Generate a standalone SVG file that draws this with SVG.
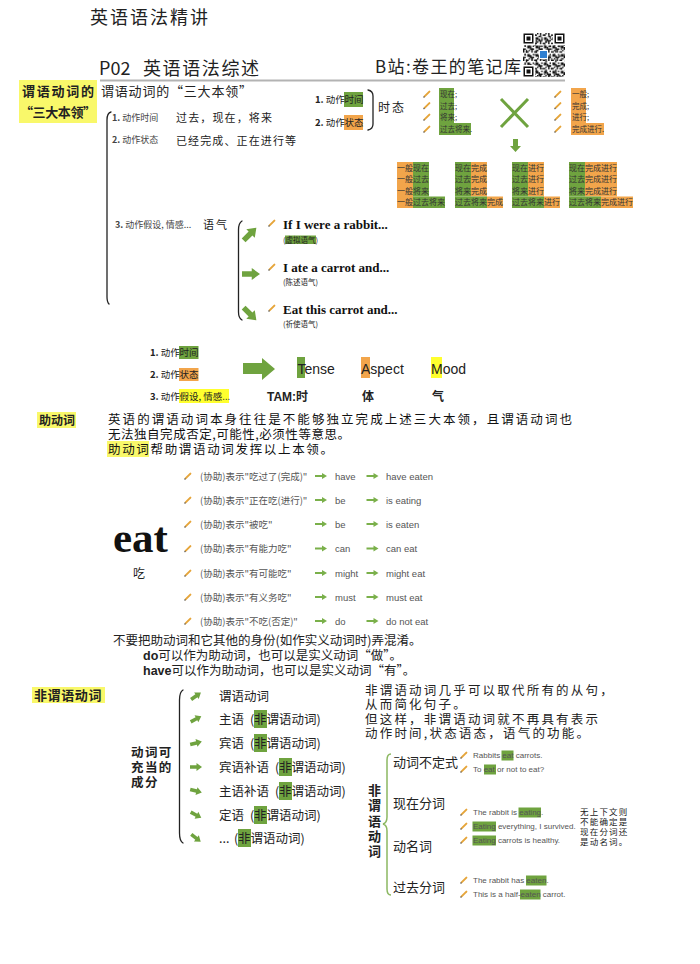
<svg xmlns="http://www.w3.org/2000/svg" width="700" height="964" viewBox="0 0 700 964">
<style>
text{font-family:"Noto Sans CJK SC","Noto Sans",sans-serif;fill:#222}
.s9{font-size:9px;fill:#444}
.lb{font-size:9.5px;fill:#555}
.en{font-family:"Liberation Sans",Arial,sans-serif}
.sr{font-family:"Liberation Serif","Times New Roman",serif;font-weight:bold;fill:#111}
.b{font-weight:bold}
.g{fill:#6fa33f}
.o{fill:#f2a54b}
.y{fill:#f9f86a}
.yb{fill:#ffff2e}
.br{fill:none;stroke:#222;stroke-width:1.3;stroke-linecap:round}
.ex{font-family:"Liberation Sans",Arial,sans-serif;font-size:8px;fill:#555}
.t8{font-size:8px;fill:#333}
.t75{font-size:7.5px;fill:#333}
.para{font-size:12.5px;fill:#111}
</style>
<defs>
<path id="arr" d="M-6,-1.8 L0.5,-1.8 L0.5,-4 L6,0 L0.5,4 L0.5,1.8 L-6,1.8 Z" fill="#6fa33f"/>
<path id="arrs" d="M-6,-1.1 L1,-1.1 L1,-3 L6,0 L1,3 L1,1.1 L-6,1.1 Z" fill="#7ab04a"/>
<g id="pen"><path d="M-2.4,2.4 L2.4,-2.4" stroke="#e6a53a" stroke-width="2" stroke-linecap="round"/><path d="M-3.5,3.5 L-2.5,2.5" stroke="#666" stroke-width="1.3"/></g>
<pattern id="qa" x="523" y="33" width="8.4" height="8.4" patternUnits="userSpaceOnUse">
<rect x="0" y="0" width="1.4" height="2.8" fill="#111"/><rect x="2.8" y="1.4" width="2.8" height="1.4" fill="#111"/><rect x="5.6" y="0" width="1.4" height="1.4" fill="#111"/><rect x="1.4" y="4.2" width="1.4" height="1.4" fill="#111"/><rect x="4.2" y="4.2" width="2.8" height="2.8" fill="#111"/><rect x="0" y="7" width="2.8" height="1.4" fill="#111"/><rect x="7" y="5.6" width="1.4" height="2.8" fill="#111"/>
</pattern>
<pattern id="qb" x="523" y="33" width="9.8" height="9.8" patternUnits="userSpaceOnUse">
<rect x="1.4" y="1.4" width="1.4" height="1.4" fill="#111"/><rect x="5.6" y="2.8" width="2.8" height="1.4" fill="#111"/><rect x="2.8" y="7" width="1.4" height="2.8" fill="#111"/><rect x="8.4" y="5.6" width="1.4" height="1.4" fill="#111"/>
</pattern>
</defs>
<rect width="700" height="964" fill="#fff"/>

<g id="header">
<text x="90" y="24" font-size="18" textLength="118" lengthAdjust="spacing">英语语法精讲</text>
<text x="99" y="75" font-size="18">P02</text>
<text x="143" y="75" font-size="18" textLength="116" lengthAdjust="spacing">英语语法综述</text>
<text x="375" y="73" font-size="17" textLength="146" lengthAdjust="spacing">B站:卷王的笔记库</text>
<g id="qr">
<rect x="523" y="33" width="42" height="44" fill="#fff"/>
<rect x="523" y="33" width="42" height="44" fill="url(#qa)"/>
<rect x="523" y="33" width="42" height="44" fill="url(#qb)"/>
<rect x="523" y="33" width="12" height="12" fill="#fff"/><rect x="523.5" y="33.5" width="10" height="10" fill="#111"/><rect x="525" y="35" width="7" height="7" fill="#fff"/><rect x="526.5" y="36.5" width="4" height="4" fill="#111"/>
<rect x="553" y="33" width="12" height="12" fill="#fff"/><rect x="554.5" y="33.5" width="10" height="10" fill="#111"/><rect x="556" y="35" width="7" height="7" fill="#fff"/><rect x="557.5" y="36.5" width="4" height="4" fill="#111"/>
<rect x="523" y="65" width="12" height="12" fill="#fff"/><rect x="523.5" y="66.5" width="10" height="10" fill="#111"/><rect x="525" y="68" width="7" height="7" fill="#fff"/><rect x="526.5" y="69.5" width="4" height="4" fill="#111"/>
<rect x="539" y="50" width="9" height="9" fill="#fff"/><rect x="540" y="51" width="7" height="7" fill="#2f7fd0"/>
</g>
<line x1="100" y1="80.5" x2="565" y2="80.5" stroke="#b3b3b3" stroke-width="2"/>
</g>

<g id="connectors">
<path class="br" d="M111,112 Q107,113 107,120 L107,297 Q107,302 109,304"/>
<path class="br" d="M368,90 Q373,91 373,96 L373,124 Q373,129 368,130"/>
<path class="br" d="M242,221 Q238.5,223 238.5,230 L238.5,312 Q238.5,318 242,320"/>
<path class="br" d="M183,690 Q179.5,692 179.5,700 L179.5,833 Q179.5,841 183,843"/>
<path d="M391,754 Q387,754 387,760 L387,817 Q387,823 383,824 Q387,825 387,831 L387,889 Q387,895 391,895" fill="none" stroke="#8cb862" stroke-width="1.5"/>
<path d="M501,99 L528,127 M528,99 L501,127" stroke="#6fa33f" stroke-width="3"/>
<path d="M513,139 H518 V146 H521 L515.5,152 L510,146 H513 Z" fill="#6fa33f"/>
<use href="#arr" transform="translate(250,234) rotate(-45) scale(1.5)"/>
<use href="#arr" transform="translate(251,274) scale(1.5)"/>
<use href="#arr" transform="translate(250,314) rotate(45) scale(1.5)"/>
<path d="M243,363 H262 V358 L275,369 L262,380 V374 H243 Z" fill="#6fa33f"/>
<use href="#arrs" x="321" y="476"/><use href="#arrs" x="372.5" y="476"/>
<use href="#arrs" x="321" y="500"/><use href="#arrs" x="372.5" y="500"/>
<use href="#arrs" x="321" y="524"/><use href="#arrs" x="372.5" y="524"/>
<use href="#arrs" x="321" y="548.5"/><use href="#arrs" x="372.5" y="548.5"/>
<use href="#arrs" x="321" y="573"/><use href="#arrs" x="372.5" y="573"/>
<use href="#arrs" x="321" y="597"/><use href="#arrs" x="372.5" y="597"/>
<use href="#arrs" x="321" y="621"/><use href="#arrs" x="372.5" y="621"/>
<use href="#arr" transform="translate(196,696) rotate(-35)"/>
<use href="#arr" transform="translate(196,719) rotate(-28)"/>
<use href="#arr" transform="translate(196,743) rotate(-14)"/>
<use href="#arr" transform="translate(196,767)"/>
<use href="#arr" transform="translate(196,791) rotate(14)"/>
<use href="#arr" transform="translate(196,815) rotate(28)"/>
<use href="#arr" transform="translate(196,838) rotate(38)"/>
</g>

<g id="label-three">
<rect x="19" y="80" width="78" height="43" class="y"/>
<text x="22" y="96" class="b" font-size="13" textLength="72" lengthAdjust="spacing">谓语动词的</text>
<text x="20" y="117" class="b" font-size="13" textLength="76" lengthAdjust="spacing">“三大本领”</text>
</g>

<g id="three-abilities">
<text x="101" y="96" font-size="13" textLength="151" lengthAdjust="spacing">谓语动词的“三大本领”</text>
<text x="112" y="121" class="s9"><tspan class="b">1.</tspan> 动作时间</text>
<text x="176" y="122" font-size="11" textLength="96" lengthAdjust="spacing">过去，现在，将来</text>
<text x="112" y="143" class="s9"><tspan class="b">2.</tspan> 动作状态</text>
<text x="176" y="145" font-size="11" textLength="120" lengthAdjust="spacing">已经完成、正在进行等</text>
</g>

<g id="tense-aspect">
<rect x="344" y="92" width="19" height="15" class="g"/>
<rect x="344" y="115" width="19" height="15" class="o"/>
<text x="315" y="103" font-size="9.5" fill="#444"><tspan class="b" fill="#222">1.</tspan> 动作</text>
<text x="344.5" y="103" font-size="9.5" fill="#333">时间</text>
<text x="315" y="126" font-size="9.5" fill="#444"><tspan class="b" fill="#222">2.</tspan> 动作</text>
<text x="344.5" y="126" font-size="9.5" fill="#333">状态</text>
<text x="378" y="112" font-size="12" letter-spacing="2">时态</text>
</g>

<g id="tense-list">
<path d="M439,88 H454 V123 H471 V135 H439 Z" class="g"/>
<use href="#pen" x="427" y="94"/><use href="#pen" x="427" y="105.5"/><use href="#pen" x="427" y="117"/><use href="#pen" x="427" y="129"/>
<text x="440" y="97" class="t75">现在;</text>
<text x="440" y="108.5" class="t75">过去;</text>
<text x="440" y="120" class="t75">将来;</text>
<text x="440" y="132" class="t75">过去将来.</text>
</g>

<g id="aspect-list">
<path d="M571,88 H586 V123 H604 V135 H571 Z" class="o"/>
<use href="#pen" x="558" y="94"/><use href="#pen" x="558" y="105.5"/><use href="#pen" x="558" y="117"/><use href="#pen" x="558" y="129"/>
<text x="572" y="97" class="t75">一般;</text>
<text x="572" y="108.5" class="t75">完成;</text>
<text x="572" y="120" class="t75">进行;</text>
<text x="572" y="132" class="t75">完成进行.</text>
</g>

<g id="tense-table">
<rect x="397" y="162" width="16" height="46" class="o"/>
<rect x="413" y="162" width="16" height="34.5" class="g"/>
<rect x="413" y="196.5" width="32" height="11.5" class="g"/>
<text x="397" y="170.8" class="t8">一般现在</text><text x="397" y="182.3" class="t8">一般过去</text><text x="397" y="193.8" class="t8">一般将来</text><text x="397" y="205.3" class="t8">一般过去将来</text>
<rect x="455" y="162" width="16" height="34.5" class="g"/>
<rect x="471" y="162" width="16" height="34.5" class="o"/>
<rect x="455" y="196.5" width="32" height="11.5" class="g"/>
<rect x="487" y="196.5" width="16" height="11.5" class="o"/>
<text x="455" y="170.8" class="t8">现在完成</text><text x="455" y="182.3" class="t8">过去完成</text><text x="455" y="193.8" class="t8">将来完成</text><text x="455" y="205.3" class="t8">过去将来完成</text>
<rect x="512" y="162" width="16" height="34.5" class="g"/>
<rect x="528" y="162" width="16" height="34.5" class="o"/>
<rect x="512" y="196.5" width="32" height="11.5" class="g"/>
<rect x="544" y="196.5" width="16" height="11.5" class="o"/>
<text x="512" y="170.8" class="t8">现在进行</text><text x="512" y="182.3" class="t8">过去进行</text><text x="512" y="193.8" class="t8">将来进行</text><text x="512" y="205.3" class="t8">过去将来进行</text>
<rect x="569" y="162" width="16" height="34.5" class="g"/>
<rect x="585" y="162" width="32" height="34.5" class="o"/>
<rect x="569" y="196.5" width="32" height="11.5" class="g"/>
<rect x="601" y="196.5" width="32" height="11.5" class="o"/>
<text x="569" y="170.8" class="t8">现在完成进行</text><text x="569" y="182.3" class="t8">过去完成进行</text><text x="569" y="193.8" class="t8">将来完成进行</text><text x="569" y="205.3" class="t8">过去将来完成进行</text>
</g>

<g id="mood">
<text x="115" y="228" class="s9"><tspan class="b">3.</tspan> 动作假设, 情感...</text>
<text x="203" y="229" font-size="11" letter-spacing="2">语气</text>
<use href="#pen" x="272" y="223"/><use href="#pen" x="272" y="267"/><use href="#pen" x="272" y="308"/>
<text x="283" y="229" class="sr" font-size="13">If I were a rabbit...</text>
<rect x="285" y="235.5" width="31" height="8.5" class="g"/>
<text x="283" y="242.5" font-size="7.5" fill="#444">(虚拟语气)</text>
<text x="283" y="272" class="sr" font-size="13">I ate a carrot and...</text>
<text x="283" y="285" font-size="7.5" fill="#555">(陈述语气)</text>
<text x="283" y="314" class="sr" font-size="13">Eat this carrot and...</text>
<text x="283" y="327" font-size="7.5" fill="#555">(祈使语气)</text>
</g>

<g id="tam">
<rect x="179" y="346" width="19.5" height="13" class="g"/>
<rect x="179" y="368" width="19.5" height="13" class="o"/>
<rect x="179" y="389" width="50" height="14" class="yb"/>
<text x="150" y="356" font-size="9.5" fill="#444"><tspan class="b" fill="#222">1.</tspan> 动作</text><text x="179.5" y="356" font-size="9.5" fill="#333">时间</text>
<text x="150" y="378" font-size="9.5" fill="#444"><tspan class="b" fill="#222">2.</tspan> 动作</text><text x="179.5" y="378" font-size="9.5" fill="#333">状态</text>
<text x="150" y="400" font-size="9.5" fill="#444"><tspan class="b" fill="#222">3.</tspan> 动作</text><text x="179.5" y="400" font-size="9.5" fill="#333">假设, 情感...</text>
<rect x="297" y="357" width="8" height="21" class="g"/>
<rect x="361" y="357" width="9" height="21" class="o"/>
<rect x="431" y="357" width="11" height="21" class="yb"/>
<text x="297.5" y="374" class="en" font-size="14" fill="#333">Tense</text>
<text x="361" y="374" class="en" font-size="14" fill="#333">Aspect</text>
<text x="431" y="374" class="en" font-size="14" fill="#333">Mood</text>
<text x="267" y="401" class="b" font-size="12"><tspan class="en">TAM:</tspan>时</text>
<text x="362" y="401" class="b" font-size="12">体</text>
<text x="432" y="401" class="b" font-size="12">气</text>
</g>

<g id="aux-label">
<rect x="37" y="412" width="39" height="16" class="y"/>
<text x="39" y="425" class="b" font-size="12">助动词</text>
</g>

<g id="aux-text">
<text x="108" y="424" class="para" textLength="464" lengthAdjust="spacing">英语的谓语动词本身往往是不能够独立完成上述三大本领，且谓语动词也</text>
<text x="108" y="439" class="para" textLength="242" lengthAdjust="spacing">无法独自完成否定,可能性,必须性等意思。</text>
<rect x="107" y="441" width="42" height="16" class="y"/>
<text x="108" y="454" class="para" textLength="225" lengthAdjust="spacing">助动词帮助谓语动词发挥以上本领。</text>
</g>

<g id="eat">
<text x="113" y="552" class="sr" font-size="43">eat</text>
<text x="133" y="578" font-size="12">吃</text>
</g>

<g id="aux-rows">
<use href="#pen" x="188" y="476"/><text x="200" y="479.5" class="lb">(协助)表示"吃过了(完成)"</text><text x="335" y="479.5" class="lb en">have</text><text x="386" y="479.5" class="lb en">have eaten</text>
<use href="#pen" x="188" y="500"/><text x="200" y="503.5" class="lb">(协助)表示"正在吃(进行)"</text><text x="335" y="503.5" class="lb en">be</text><text x="386" y="503.5" class="lb en">is eating</text>
<use href="#pen" x="188" y="524"/><text x="200" y="527.5" class="lb">(协助)表示"被吃"</text><text x="335" y="527.5" class="lb en">be</text><text x="386" y="527.5" class="lb en">is eaten</text>
<use href="#pen" x="188" y="548.5"/><text x="200" y="552" class="lb">(协助)表示"有能力吃"</text><text x="335" y="552" class="lb en">can</text><text x="386" y="552" class="lb en">can eat</text>
<use href="#pen" x="188" y="573"/><text x="200" y="576.5" class="lb">(协助)表示"有可能吃"</text><text x="335" y="576.5" class="lb en">might</text><text x="386" y="576.5" class="lb en">might eat</text>
<use href="#pen" x="188" y="597"/><text x="200" y="600.5" class="lb">(协助)表示"有义务吃"</text><text x="335" y="600.5" class="lb en">must</text><text x="386" y="600.5" class="lb en">must eat</text>
<use href="#pen" x="188" y="621"/><text x="200" y="624.5" class="lb">(协助)表示"不吃(否定)"</text><text x="335" y="624.5" class="lb en">do</text><text x="386" y="624.5" class="lb en">do not eat</text>
</g>

<g id="aux-note">
<text x="113" y="645" font-size="12.5" fill="#111">不要把助动词和它其他的身份(如作实义动词时)弄混淆。</text>
<text x="143" y="660" font-size="12.5" fill="#111"><tspan class="en b">do</tspan>可以作为助动词，也可以是实义动词“做”。</text>
<text x="143" y="675" font-size="12.5" fill="#111"><tspan class="en b">have</tspan>可以作为助动词，也可以是实义动词“有”。</text>
</g>

<g id="nonfinite-label">
<rect x="32" y="687" width="73" height="16" class="y"/>
<text x="34" y="700" class="b" font-size="13" letter-spacing="0.6">非谓语动词</text>
</g>

<g id="components">
<text x="131" y="757" class="b" font-size="12.5" letter-spacing="1.4">动词可</text>
<text x="131" y="772" class="b" font-size="12.5" letter-spacing="1.4">充当的</text>
<text x="131" y="787" class="b" font-size="12.5" letter-spacing="1.4">成分</text>
</g>

<g id="component-list">
<rect x="254" y="710" width="13" height="18" class="g"/>
<rect x="254" y="734" width="13" height="18" class="g"/>
<rect x="279" y="758" width="13" height="18" class="g"/>
<rect x="279" y="782" width="13" height="18" class="g"/>
<rect x="254" y="806" width="13" height="18" class="g"/>
<rect x="238" y="829" width="13" height="18" class="g"/>
<text x="219" y="700.5" font-size="12.5" fill="#333">谓语动词</text>
<text x="219" y="723.5" font-size="12.5" fill="#333">主语</text><text x="250" y="723.5" font-size="12.5" fill="#333">(</text><text x="254" y="723.5" font-size="12.5" fill="#333">非谓语动词)</text>
<text x="219" y="747.5" font-size="12.5" fill="#333">宾语</text><text x="250" y="747.5" font-size="12.5" fill="#333">(</text><text x="254" y="747.5" font-size="12.5" fill="#333">非谓语动词)</text>
<text x="219" y="771.5" font-size="12.5" fill="#333">宾语补语</text><text x="275" y="771.5" font-size="12.5" fill="#333">(</text><text x="279" y="771.5" font-size="12.5" fill="#333">非谓语动词)</text>
<text x="219" y="795.5" font-size="12.5" fill="#333">主语补语</text><text x="275" y="795.5" font-size="12.5" fill="#333">(</text><text x="279" y="795.5" font-size="12.5" fill="#333">非谓语动词)</text>
<text x="219" y="819.5" font-size="12.5" fill="#333">定语</text><text x="250" y="819.5" font-size="12.5" fill="#333">(</text><text x="254" y="819.5" font-size="12.5" fill="#333">非谓语动词)</text>
<text x="219" y="842.5" font-size="12.5" fill="#333">...</text><text x="234" y="842.5" font-size="12.5" fill="#333">(</text><text x="238" y="842.5" font-size="12.5" fill="#333">非谓语动词)</text>
</g>

<g id="nonfinite-text">
<text x="365" y="695" font-size="12.5" letter-spacing="2.2" fill="#111">非谓语动词几乎可以取代所有的从句，</text>
<text x="365" y="709" font-size="12.5" letter-spacing="2.2" fill="#111">从而简化句子。</text>
<text x="365" y="724" font-size="12.5" letter-spacing="2.2" fill="#111">但这样，非谓语动词就不再具有表示</text>
<text x="365" y="738" font-size="12.5" letter-spacing="2.2" fill="#111">动作时间,状态语态，语气的功能。</text>
</g>

<g id="nonfinite-vertical">
<text x="368" y="795" class="b" font-size="13">非</text>
<text x="368" y="810" class="b" font-size="13">谓</text>
<text x="368" y="826" class="b" font-size="13">语</text>
<text x="368" y="841" class="b" font-size="13">动</text>
<text x="368" y="856" class="b" font-size="13">词</text>
</g>

<g id="forms">
<text x="393" y="767" font-size="13" fill="#333">动词不定式</text>
<text x="393" y="808" font-size="13" fill="#333">现在分词</text>
<text x="393" y="851" font-size="13" fill="#333">动名词</text>
<text x="393" y="892" font-size="13" fill="#333">过去分词</text>
</g>

<g id="examples">
<rect x="501.5" y="750.5" width="12" height="10" class="g"/>
<rect x="484" y="764.5" width="12" height="10" class="g"/>
<rect x="518.5" y="807.5" width="22.5" height="10" class="g"/>
<rect x="472.5" y="821.5" width="23.5" height="10" class="g"/>
<rect x="472.5" y="835.5" width="23.5" height="10" class="g"/>
<rect x="526" y="875.5" width="20.5" height="10" class="g"/>
<rect x="520" y="889.5" width="20.5" height="10" class="g"/>
<use href="#pen" x="464" y="755"/><text x="473" y="758" class="ex">Rabbits eat carrots.</text>
<use href="#pen" x="464" y="769"/><text x="473" y="772" class="ex">To eat or not to eat?</text>
<use href="#pen" x="464" y="812"/><text x="473" y="815" class="ex">The rabbit is eating.</text>
<use href="#pen" x="464" y="826"/><text x="473" y="829" class="ex">Eating everything, I survived.</text>
<use href="#pen" x="464" y="840"/><text x="473" y="843" class="ex">Eating carrots is healthy.</text>
<use href="#pen" x="464" y="880"/><text x="473" y="883" class="ex">The rabbit has eaten.</text>
<use href="#pen" x="464" y="894"/><text x="473" y="897" class="ex">This is a half-eaten carrot.</text>
</g>

<g id="side-note">
<text x="580" y="815" font-size="8.5" letter-spacing="1.2" fill="#111">无上下文则</text>
<text x="580" y="825" font-size="8.5" letter-spacing="1.2" fill="#111">不能确定是</text>
<text x="580" y="835" font-size="8.5" letter-spacing="1.2" fill="#111">现在分词还</text>
<text x="580" y="845" font-size="8.5" letter-spacing="1.2" fill="#111">是动名词。</text>
</g>
</svg>
